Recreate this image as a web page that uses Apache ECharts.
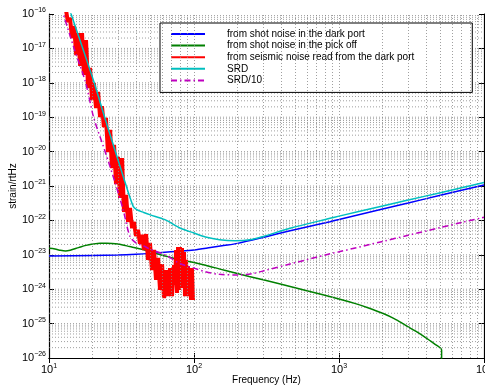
<!DOCTYPE html>
<html>
<head>
<meta charset="utf-8">
<script src="https://cdn.jsdelivr.net/npm/echarts@6/dist/echarts.min.js"></script>
<style>
  html, body { margin: 0; padding: 0; background: #fff; }
  #chart { width: 485px; height: 389px; }
</style>
</head>
<body>
<div id="chart"></div>
<script>
// values: [frequency Hz, strain/rtHz]
const darkPortShot = [
  [10, 9.3e-24], [20, 9.6e-24], [30, 9.9e-24], [40, 1.04e-23], [50, 1.1e-23], [60, 1.17e-23],
  [80, 1.27e-23], [100, 1.38e-23], [130, 1.62e-23], [160, 1.85e-23], [200, 2.15e-23],
  [300, 3.2e-23], [460, 5.0e-23], [700, 7.5e-23], [867, 9.2e-23], [1000, 1.06e-22],
  [2000, 2.15e-22], [3000, 3.2e-22], [5000, 5.4e-22], [7000, 7.5e-22], [10000, 1.07e-21]
];
const pickOffShot = [
  [10, 1.55e-23], [11, 1.48e-23], [12, 1.35e-23], [13, 1.29e-23], [14, 1.36e-23], [16, 1.62e-23],
  [18, 1.88e-23], [20, 2.05e-23], [22.5, 2.18e-23], [25, 2.18e-23], [30, 2.05e-23], [36, 1.74e-23],
  [45, 1.4e-23], [54, 1.1e-23], [65, 9.0e-24], [80, 7.1e-24], [100, 6.0e-24], [120, 5.0e-24],
  [160, 3.6e-24], [240, 2.35e-24], [400, 1.4e-24], [600, 9.0e-25], [1000, 5.2e-25],
  [1300, 3.8e-25], [1600, 2.85e-25], [2000, 2.0e-25], [2400, 1.4e-25], [2800, 9.6e-26],
  [3400, 5.9e-26], [4000, 3.8e-26], [4600, 2.5e-26], [5100, 1.7e-26], [5101, 5e-27]
];
const seismicDarkPort = [
  [13.1, 1.3e-16], [13.5, 5.85e-17], [13.96, 7.65e-17], [14.4, 2.0e-17], [14.9, 4.5e-17],
  [15.4, 6.4e-18], [15.85, 2.8e-17], [16.4, 3.1e-18], [16.9, 2.8e-17], [17.4, 1.7e-18],
  [18.0, 1.75e-17], [18.6, 7.1e-19], [19.2, 2.7e-18], [19.8, 3.16e-19], [20.4, 9.9e-19],
  [21.1, 1.85e-19], [21.8, 5.4e-19], [22.5, 1.01e-19], [23.2, 2.1e-19], [23.9, 5.2e-20],
  [24.7, 9.5e-20], [25.5, 9.7e-21], [26.4, 4.26e-20], [27.2, 3.3e-21], [28.1, 1.56e-20],
  [29.0, 1.14e-21], [29.9, 7.0e-21], [30.9, 4.5e-22], [31.9, 6.5e-21], [32.9, 1.75e-22],
  [34.0, 5.5e-22], [35.1, 9.0e-23], [36.2, 2.3e-22], [37.4, 6.0e-23], [38.6, 9.0e-23],
  [39.8, 3.5e-23], [41.1, 5.3e-23], [42.4, 2.1e-23], [43.8, 3.8e-23], [45.2, 1.38e-23],
  [46.7, 4.0e-23], [48.2, 7.1e-24], [49.7, 2.2e-23], [51.3, 3.6e-24], [53.0, 1.38e-23],
  [54.7, 1.86e-24], [56.5, 8.1e-24], [58.3, 9.5e-25], [60.2, 5.4e-24], [62.1, 5.5e-25],
  [64.1, 3.6e-24], [66.2, 6.3e-25], [68.3, 4.1e-24], [70.5, 6.3e-25], [72.8, 5.0e-24],
  [74.0, 1.33e-24], [75.2, 1.38e-23], [76.4, 7.8e-25], [77.6, 1.69e-23], [78.8, 9.5e-25],
  [80.0, 1.69e-23], [81.3, 1.08e-24], [82.6, 1.58e-23], [83.9, 1.33e-24], [85.3, 1.2e-23],
  [86.7, 6.3e-25], [88.1, 7.1e-24], [89.5, 8.3e-25], [90.9, 4.7e-24], [92.3, 6.3e-25],
  [93.8, 3.6e-24], [95.3, 4.85e-25], [96.8, 4.1e-24], [98.4, 4.85e-25]
];
const srd = [
  [13.7, 1.6e-16], [14.2, 1e-16], [17.1, 1e-17], [20.5, 1e-18], [24.2, 1e-19], [28.5, 1.1e-20],
  [32.5, 1.9e-21], [38, 2.6e-22], [40, 2.1e-22], [45, 1.7e-22], [50, 1.45e-22], [63, 1.05e-22],
  [80, 6.0e-23], [100, 4.3e-23], [120, 3.3e-23], [150, 2.75e-23], [192, 2.57e-23], [250, 2.8e-23],
  [300, 3.4e-23], [460, 5.9e-23], [867, 1.15e-22], [1000, 1.33e-22], [2000, 2.62e-22],
  [3000, 3.9e-22], [5000, 6.4e-22], [7000, 8.9e-22], [10000, 1.26e-21]
];
const srdTenth = [
  [12.2, 1.6e-16], [12.55, 1e-16], [14.9, 1e-17], [17.9, 1e-18], [20.3, 1e-19], [24.2, 1.1e-20],
  [28.5, 1.3e-21], [32.5, 2.0e-22], [36.2, 3.4e-23], [40, 2.2e-23], [45, 1.8e-23], [50, 1.45e-23],
  [63, 1.0e-23], [80, 5.6e-24], [100, 4.1e-24], [120, 3.2e-24], [150, 2.7e-24], [200, 2.6e-24],
  [250, 2.8e-24], [300, 3.4e-24], [460, 5.4e-24], [867, 1.07e-23], [1000, 1.22e-23],
  [2000, 2.45e-23], [3000, 3.7e-23], [5000, 6.2e-23], [7000, 8.7e-23], [10000, 1.23e-22]
];

// dotted grid at 1..9 x each decade
const freqGrid = [20, 30, 40, 50, 60, 70, 80, 90, 100, 200, 300, 400, 500, 600, 700, 800, 900,
  1000, 2000, 3000, 4000, 5000, 6000, 7000, 8000, 9000];
const strainGrid = [];
for (let e = -26; e < -16; e++) {
  for (let m = 1; m <= 9; m++) {
    if (e === -26 && m === 1) continue;
    strainGrid.push(Number(m + 'e' + e));
  }
}

const names = [
  'from shot noise in the dark port',
  'from shot noise in the pick off',
  'from seismic noise read from the dark port',
  'SRD',
  'SRD/10'
];

const font = 'Liberation Sans, Arial, Helvetica, sans-serif';
const gridDash = [1, 2];
const gridColor = '#888';

function powLabel(v, lo) {
  let e = Math.round(Math.log10(v));
  if (!isFinite(e)) e = lo;
  return '{b|10}{s|' + (e < 0 ? '\u2212' + (-e) : e) + '}';
}
const powRich = {
  b: { fontSize: 11, fontFamily: font, color: '#000', lineHeight: 14 },
  s: { fontSize: 7, fontFamily: font, color: '#000', verticalAlign: 'top', lineHeight: 8 }
};

const chart = echarts.init(document.getElementById('chart'));

const logAxis = (extra) => Object.assign({
  type: 'log',
  logBase: 10,
  interval: 1,
  axisLine: { show: true, lineStyle: { color: '#000', width: 1.2 } },
  axisTick: { show: true, inside: true, length: 5, lineStyle: { color: '#000' } },
  splitLine: { show: false }
}, extra);

chart.setOption({
  animation: false,
  backgroundColor: '#fff',
  grid: { left: 49, right: 1, top: 14, bottom: 31, show: false, outerBoundsMode: 'none' },
  legend: {
    orient: 'vertical',
    left: 160,
    top: 23,
    data: names,
    itemWidth: 34,
    itemHeight: 10,
    itemGap: 1.6,
    padding: [6, 58, 7, 10],
    backgroundColor: '#fff',
    borderColor: '#000',
    borderWidth: 1,
    itemStyle: { opacity: 0 },
    textStyle: { fontSize: 10, fontFamily: font, color: '#000', padding: [0, 0, 0, 17] }
  },
  xAxis: [
    logAxis({
      min: 10, max: 10000,
      name: 'Frequency (Hz)', nameLocation: 'middle', nameGap: 17, nameMoveOverlap: false,
      nameTextStyle: { fontSize: 10, fontFamily: font, color: '#000' },
      axisLabel: { margin: 5, showMinLabel: true, showMaxLabel: true, formatter: v => powLabel(v, 1), rich: powRich }
    }),
    logAxis({ min: 10, max: 10000, position: 'top', axisLabel: { show: false } })
  ],
  yAxis: [
    logAxis({
      min: 1e-26, max: 1e-16,
      name: 'strain/rtHz', nameLocation: 'middle', nameGap: 31, nameMoveOverlap: false,
      nameTextStyle: { fontSize: 10, fontFamily: font, color: '#000' },
      axisLabel: { margin: 3, showMinLabel: true, showMaxLabel: true, formatter: v => powLabel(v, -26), rich: powRich }
    }),
    logAxis({ min: 1e-26, max: 1e-16, position: 'right', axisLabel: { show: false } })
  ],
  series: [
    {
      type: 'line', data: [], silent: true, z: 1,
      markLine: {
        silent: true, symbol: 'none', animation: false,
        label: { show: false },
        lineStyle: { color: gridColor, type: gridDash, width: 0.8 },
        data: freqGrid.map(f => ({ xAxis: f }))
      }
    },
    {
      // horizontal dotted grid, plus the 10^-26 label the axis drops at its min
      type: 'custom', silent: true, z: 1, clip: false,
      data: strainGrid.map(h => [10, h]).concat([[10, 1e-26]]),
      encode: { x: 0, y: 1 },
      renderItem: function (params, api) {
        const cs = params.coordSys;
        const h = api.value(1);
        const y = api.coord([10, h])[1];
        if (h <= 1.01e-26) {
          return {
            type: 'text',
            style: {
              x: cs.x - 3, y: y, align: 'right', verticalAlign: 'middle',
              text: powLabel(h, -26), rich: powRich
            }
          };
        }
        return {
          type: 'line',
          shape: { x1: cs.x, y1: y, x2: cs.x + cs.width, y2: y },
          style: { stroke: gridColor, lineWidth: 0.8, lineDash: gridDash }
        };
      }
    },
    { name: names[0], type: 'line', data: darkPortShot, showSymbol: false, symbol: 'none', smooth: 0.3,
      lineStyle: { color: '#0000ff', width: 1.5 }, itemStyle: { color: '#0000ff' }, z: 3 },
    { name: names[1], type: 'line', data: pickOffShot, showSymbol: false, symbol: 'none', smooth: 0.3,
      lineStyle: { color: '#008000', width: 1.5 }, itemStyle: { color: '#008000' }, z: 3 },
    { name: names[2], type: 'line', data: seismicDarkPort, showSymbol: false, symbol: 'none',
      lineStyle: { color: '#ff0000', width: 4 }, itemStyle: { color: '#ff0000' }, z: 4 },
    { name: names[3], type: 'line', data: srd, showSymbol: false, symbol: 'none', smooth: 0.3,
      lineStyle: { color: '#00bfbf', width: 1.5 }, itemStyle: { color: '#00bfbf' }, z: 5 },
    { name: names[4], type: 'line', data: srdTenth, showSymbol: false, symbol: 'none', smooth: 0.3,
      lineStyle: { color: '#bf00bf', width: 1.5, type: [6, 3, 1.5, 3] }, itemStyle: { color: '#bf00bf' }, z: 5 }
  ]
});
</script>
</body>
</html>
